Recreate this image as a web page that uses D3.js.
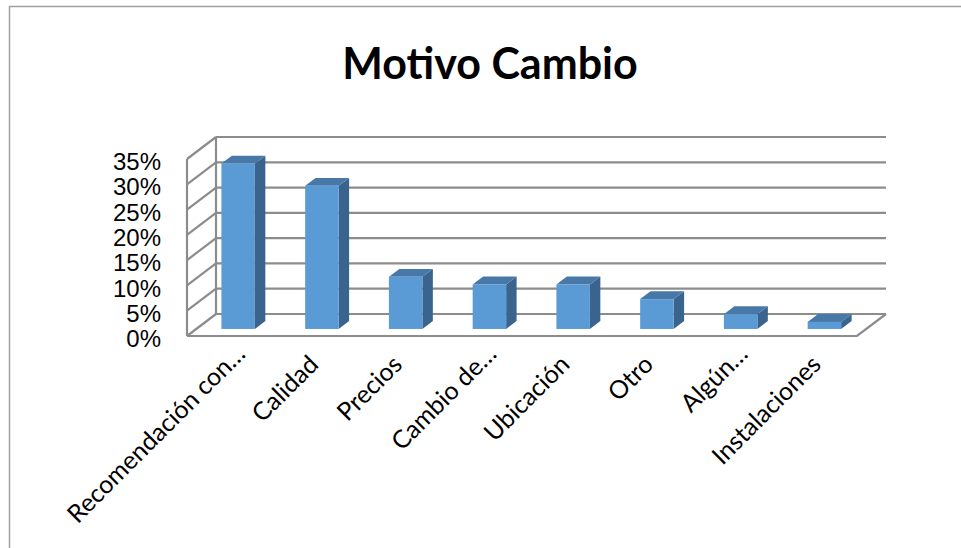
<!DOCTYPE html>
<html lang="es">
<head>
    <meta charset="UTF-8">
    <title>Motivo Cambio</title>
    <script src="https://d3js.org/d3.v7.min.js"></script>
    <style>
        body {
            margin: 0;
            background: #fff;
        }
        .title {
            font-family: Lato, "Open Sans", sans-serif;
            font-weight: bold;
        }
        .cat {
            font-family: Lato, "Open Sans", sans-serif;
        }
        .yaxis text {
            font-family: "Liberation Sans", Arial, sans-serif;
            font-size: 24px;
            fill: #000;
        }
    </style>
</head>
<body>
    <div id="chart"></div>

    <script>
        // datos
        const categories = ["Recomendación con…", "Calidad", "Precios", "Cambio de…",
            "Ubicación", "Otro", "Algún…", "Instalaciones"];
        const values = [0.327, 0.283, 0.103, 0.088, 0.088, 0.059, 0.029, 0.014];
        const yTicks = [0, 0.05, 0.10, 0.15, 0.20, 0.25, 0.30, 0.35];

        const width = 961, height = 548;
        const gridColor = "#8c8c8c";

        // pared trasera
        const back = { x0: 216, x1: 886, y0: 314, y1: 137 };
        // desplazamiento de profundidad (de atras hacia adelante)
        const depth = { dx: -29, dy: 22 };
        const barFront = 0.68;   // fraccion de profundidad donde esta la cara frontal
        const barBack = 0.32;

        const svg = d3.select("#chart").append("svg")
            .attr("width", width)
            .attr("height", height);

        // marco
        svg.append("rect")
            .attr("x", 9.5).attr("y", 6.5)
            .attr("width", width).attr("height", height)
            .attr("fill", "none")
            .attr("stroke", "#a0a0a0")
            .attr("stroke-width", 1.5);

        svg.append("text")
            .attr("class", "title")
            .attr("x", 490)
            .attr("y", 79)
            .attr("text-anchor", "middle")
            .attr("font-size", 43)
            .text("Motivo Cambio");

        const y = d3.scaleLinear()
            .domain([0, 0.35])
            .range([back.y0, back.y1]);

        const x = d3.scaleBand()
            .domain(categories)
            .range([back.x0 + depth.dx * barFront, back.x1 + depth.dx * barFront])
            .paddingInner(0.6)
            .paddingOuter(0.3);

        // rejilla
        const grid = svg.append("g")
            .attr("stroke", gridColor)
            .attr("stroke-width", 2.2)
            .attr("fill", "none");

        grid.selectAll("line.h")
            .data(yTicks)
            .enter().append("line")
            .attr("x1", back.x0).attr("x2", back.x1)
            .attr("y1", d => y(d)).attr("y2", d => y(d));

        grid.selectAll("line.d")
            .data(yTicks)
            .enter().append("line")
            .attr("x1", back.x0 + depth.dx).attr("y1", d => y(d) + depth.dy)
            .attr("x2", back.x0).attr("y2", d => y(d));

        grid.append("line")
            .attr("x1", back.x0).attr("x2", back.x0)
            .attr("y1", y(0.35)).attr("y2", y(0));

        grid.append("line")
            .attr("x1", back.x0 + depth.dx).attr("x2", back.x0 + depth.dx)
            .attr("y1", y(0.35) + depth.dy).attr("y2", y(0) + depth.dy);

        grid.append("path")
            .attr("d", d3.line()([
                [back.x0 + depth.dx, y(0) + depth.dy],
                [back.x1 + depth.dx, y(0) + depth.dy],
                [back.x1, y(0)]
            ]));

        // eje y
        svg.append("g")
            .attr("class", "yaxis")
            .attr("transform", `translate(${back.x0 + depth.dx},${depth.dy + 3})`)
            .call(d3.axisLeft(y).tickValues(yTicks).tickFormat(d3.format(".0%"))
                .tickSize(0).tickPadding(26))
            .call(g => g.select(".domain").remove());

        // barras 3d
        const bdx = depth.dx * (barBack - barFront) * -1; // hacia atras
        const bdy = depth.dy * (barBack - barFront) * -1;
        const fOff = { dx: depth.dx * barFront, dy: depth.dy * barFront };
        const bw = x.bandwidth();

        const bars = svg.append("g")
            .selectAll("g")
            .data(categories.map((c, i) => ({ c, v: values[i] })))
            .enter().append("g");

        // lado
        bars.append("path")
            .attr("fill", "#3a648e")
            .attr("d", d => {
                const x1 = x(d.c) + bw, yt = y(d.v) + fOff.dy, yb = y(0) + fOff.dy;
                return d3.line()([[x1, yt], [x1 - bdx, yt - bdy], [x1 - bdx, yb - bdy], [x1, yb]]) + "Z";
            });

        // tapa
        bars.append("path")
            .attr("fill", "#4878a8")
            .attr("d", d => {
                const x0 = x(d.c), yt = y(d.v) + fOff.dy;
                return d3.line()([[x0, yt], [x0 - bdx, yt - bdy], [x0 + bw - bdx, yt - bdy], [x0 + bw, yt]]) + "Z";
            });

        // frente
        bars.append("rect")
            .attr("fill", "#5b9bd5")
            .attr("x", d => x(d.c))
            .attr("y", d => y(d.v) + fOff.dy)
            .attr("width", bw)
            .attr("height", d => y(0) - y(d.v));

        // etiquetas de categoria
        svg.append("g")
            .selectAll("text")
            .data(categories)
            .enter().append("text")
            .attr("class", "cat")
            .attr("font-size", 25)
            .attr("text-anchor", "end")
            .attr("transform", d => `translate(${x(d) + bw / 2 - 2},366) rotate(-45)`)
            .attr("dx", d => d.endsWith("…") ? 15 : 0)
            .text(d => d);
    </script>
</body>
</html>
